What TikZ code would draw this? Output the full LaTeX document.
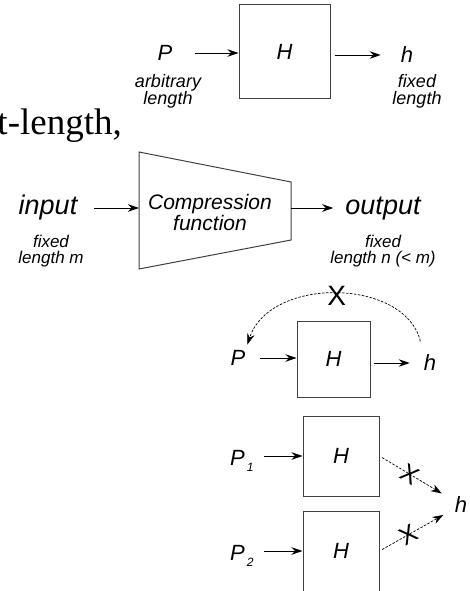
\documentclass[tikz,border=0pt]{standalone}
\usepackage{fontspec}
\setmainfont{Liberation Serif}
\setsansfont{Liberation Sans}
\usetikzlibrary{arrows.meta, positioning, calc}

\begin{document}
\begin{tikzpicture}[x=1pt,y=-1pt,>={Stealth[length=11pt,width=7.5pt]}, font=\sffamily\itshape]

\tikzset{
  hbox/.style={draw=black!75, line width=1pt, minimum width=76pt, minimum height=80pt, inner sep=0pt, font=\sffamily\itshape\fontsize{22}{24}\selectfont},
  lab/.style={inner sep=0pt, font=\sffamily\itshape\fontsize{22}{24}\selectfont},
  lablarge/.style={inner sep=0pt, font=\sffamily\itshape\fontsize{27}{30}\selectfont},
  smalltxt/.style={inner sep=0pt, align=center, font=\sffamily\itshape\fontsize{17}{16}\selectfont},
  conn/.style={->, line width=0.9pt},
  nogo/.style={->, line width=0.7pt, dash pattern=on 2.5pt off 1.5pt},
  xmark/.style={inner sep=0pt, font=\sffamily\fontsize{25}{25}\selectfont}
}

\useasboundingbox (0,0) rectangle (469,591);
\clip (0,0) rectangle (469,591);

% --- testo della slide, tagliato a sinistra
\node[anchor=base east, inner sep=0pt, font=\rmfamily\fontsize{37}{40}\selectfont] (slide) at (122,135) {t-length,};

% --- H : P -> h
\node[hbox, minimum width=91pt, minimum height=94pt] (H) at (284.5,52) {H};
\node[lab] (P) at (165,53) {P};
\node[smalltxt, font=\sffamily\itshape\fontsize{18}{17}\selectfont] (Plen) at (168,91) {arbitrary\\length};
\node[lab] (h) at (407,55) {h};
\node[smalltxt, font=\sffamily\itshape\fontsize{18}{17}\selectfont] (hlen) at (417,91) {fixed\\length};
\draw[conn, shorten <=22pt] (P.east) -- (P.east -| H.west);
\draw[conn, shorten <=4pt, shorten >=20pt] (H.east |- h) -- (h.west);

% --- Compression function
\coordinate (c1) at (139,152);
\coordinate (c2) at (291,182);
\coordinate (c3) at (291,240);
\coordinate (c4) at (139,269);
\draw[draw=black!75, line width=1pt] (c1) -- (c2) -- (c3) -- (c4) -- cycle;
\coordinate (cin) at (139,208);
\coordinate (cout) at (291,208);
\node[smalltxt, font=\sffamily\itshape\fontsize{21}{21}\selectfont] (cf) at (210,212) {Compression\\function};
\node[lablarge, anchor=base] (inp) at (48,214) {input};
\node[lablarge, anchor=base] (outp) at (383,214) {output};
\node[smalltxt] (inlen) at (51,251) {fixed\\length m};
\node[smalltxt] (outlen) at (383,251) {fixed\\length n (< m)};
\draw[conn, shorten <=17pt] (inp.east |- cin) -- (cin);
\draw[conn, shorten >=12pt] (cout) -- (outp.west |- cout);

% --- non si torna indietro: h -> P
\node[hbox, minimum width=73pt, minimum height=76pt] (H3) at (333.5,359) {H};
\node[lab] (P3) at (238,358) {P};
\node[lab] (h3) at (430,363) {h};
\draw[conn, shorten <=14pt] (P3.east) -- (P3.east -| H3.west);
\draw[conn, shorten <=3pt, shorten >=14pt] (H3.east |- h3) -- (h3.west);
\draw[nogo, shorten <=14pt, shorten >=6pt] (h3.north west) .. controls (405,278) and (270,276) .. (P3.north east)
  node[pos=0.5, xmark, font=\sffamily\fontsize{28}{28}\selectfont] (X3) {X};

% --- collisioni: P_1, P_2 -> h
\node[hbox] (Ha) at (341,456) {H};
\node[hbox] (Hb) at (341,551) {H};
\node[lab, anchor=base west] (Pa) at (230,465) {P\raisebox{-6pt}{\fontsize{12}{12}\selectfont\,1}};
\node[lab, anchor=base west] (Pb) at (230,560) {P\raisebox{-6pt}{\fontsize{12}{12}\selectfont\,2}};
\node[lab] (h4) at (461,505) {h};
\draw[conn, shorten <=10pt] (Pa.east |- Ha) -- (Ha.west);
\draw[conn, shorten <=10pt] (Pb.east |- Hb) -- (Hb.west);
\draw[nogo, shorten <=3pt, shorten >=15pt] (Ha.east) -- (h4) node[pos=0.41, sloped, xmark] (Xa) {X};
\draw[nogo, shorten <=3pt, shorten >=13pt] (Hb.east) -- (h4) node[pos=0.38, sloped, xmark] (Xb) {X};

\end{tikzpicture}
\end{document}
